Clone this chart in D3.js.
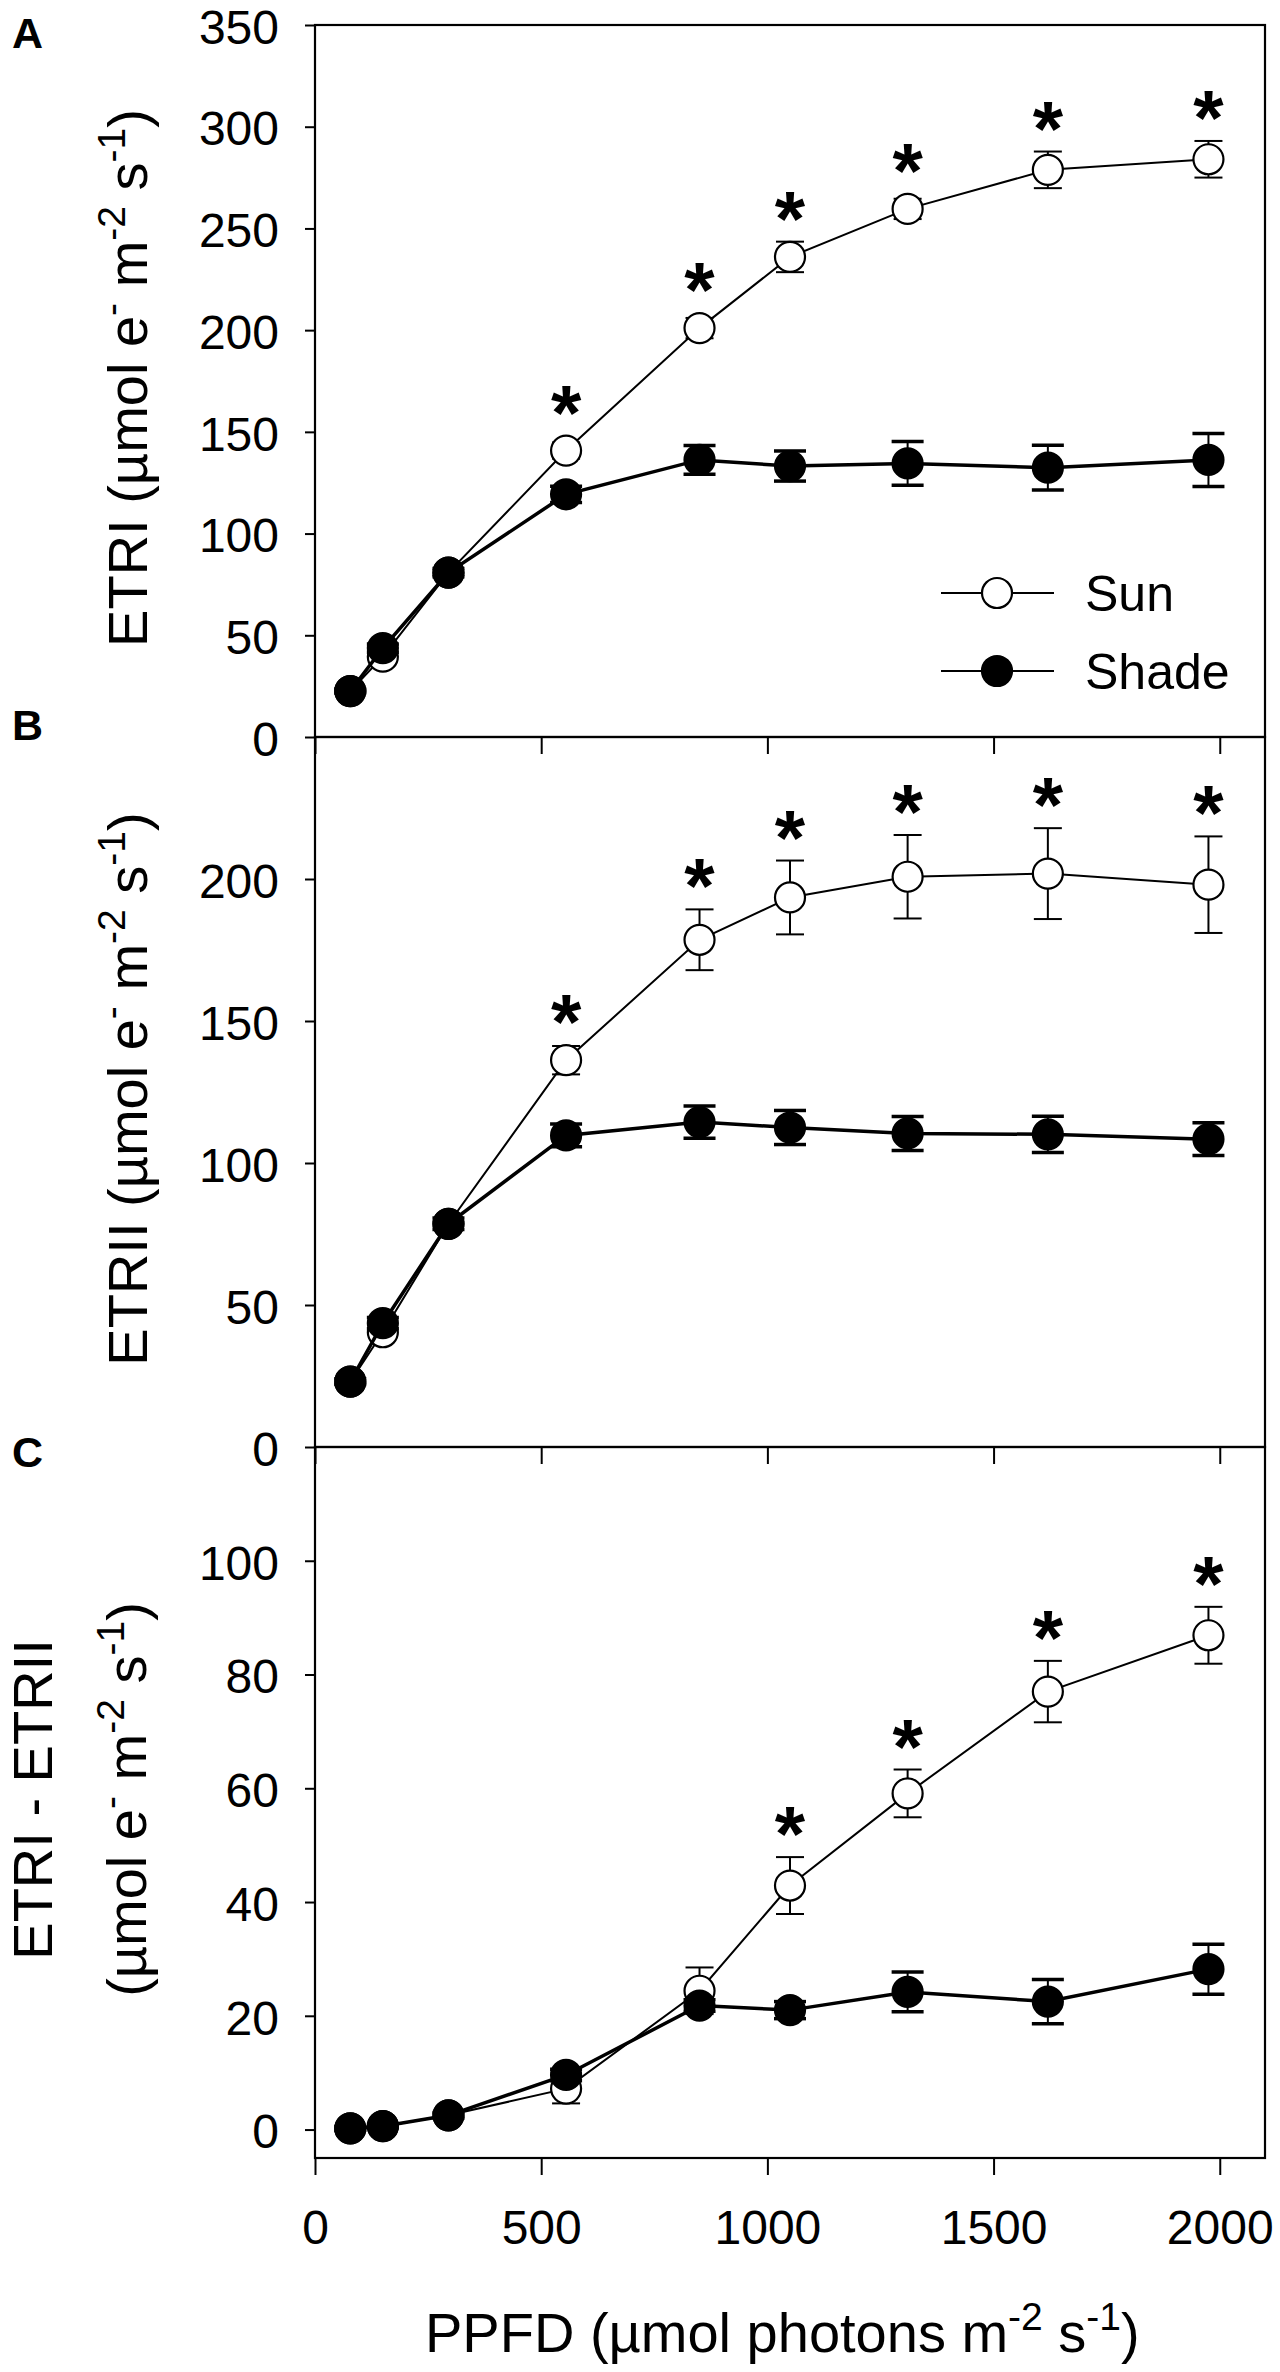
<!DOCTYPE html>
<html>
<head>
<meta charset="utf-8">
<script src="https://cdn.jsdelivr.net/npm/d3@7"></script>
<style>
  html, body { margin: 0; padding: 0; background: #fff; }
  svg { display: block; }
  text { font-family: "Liberation Sans", Arial, sans-serif; fill: #000; }
</style>
</head>
<body>
<svg id="chart" width="1280" height="2372"></svg>
<script>
// ---------------- DATA ----------------
const PPFD = [78, 150, 295, 555, 850, 1050, 1310, 1620, 1975];
const xTicks = [0, 500, 1000, 1500, 2000];

// Panel A: ETRI
const etrISun      = [22.6, 39.5, 80.8, 140.8, 201, 236, 259.6, 278.8, 284];
const etrISunErr   = [1, 2, 2, 4, 5, 7.5, 5, 9, 9];
const etrIShade    = [22.6, 43.7, 80.8, 119.3, 136.2, 133.2, 134.5, 132.4, 136.2];
const etrIShadeErr = [1, 2, 2, 4, 7.1, 7.4, 10.7, 11, 13];
const etrISig      = [0, 0, 0, 1, 1, 1, 1, 1, 1];
const etrITicks    = [0, 50, 100, 150, 200, 250, 300, 350];

// Panel B: ETRII
const etrIISun      = [23, 40.4, 78.6, 136.2, 178.6, 193.5, 200.8, 201.9, 198];
const etrIISunErr   = [1, 2, 2, 5, 10.7, 13, 14.7, 16, 17];
const etrIIShade    = [23, 43.6, 78.6, 109.7, 114.4, 112.5, 110.4, 110.1, 108.4];
const etrIIShadeErr = [1, 2, 2, 4, 5.7, 6, 6, 6.4, 5.8];
const etrIISig      = [0, 0, 0, 1, 1, 1, 1, 1, 1];
const etrIITicks    = [0, 50, 100, 150, 200];

// Panel C: ETRI - ETRII
const diffSun      = [0.2, 0.6, 2.5, 7.2, 24.4, 42.9, 59.1, 77.0, 86.9];
const diffSunErr   = [0.3, 0.3, 0.5, 2.6, 4.1, 5, 4.2, 5.4, 5];
const diffShade    = [0.2, 0.6, 2.5, 9.6, 21.8, 21.0, 24.2, 22.5, 28.2];
const diffShadeErr = [0.3, 0.3, 0.5, 1, 1, 1.5, 3.5, 3.9, 4.4];
const diffSig      = [0, 0, 0, 0, 0, 1, 1, 1, 1];
const diffTicks    = [0, 20, 40, 60, 80, 100];

const seriesNames = ["Sun", "Shade"];

// ---------------- LAYOUT ----------------
const svg = d3.select("#chart");
const left = 315, right = 1265;
const x = d3.scaleLinear().domain([0, 2100]).range([left, right]);

const unitParts = [["e", 0], ["-", 1], [" m", 0], ["-2", 1], [" s", 0], ["-1", 1], [")", 0]];

const panels = [
  { id: "A", top: 25, bottom: 737, domain: [0, 350], ticks: etrITicks,
    sun: etrISun, sunErr: etrISunErr, shade: etrIShade, shadeErr: etrIShadeErr, sig: etrISig,
    labelY: 48, legend: true, xLabels: false,
    title: [{ x: 147, parts: [["ETRI (µmol ", 0], ...unitParts] }] },
  { id: "B", top: 737, bottom: 1447, domain: [0, 250], ticks: etrIITicks,
    sun: etrIISun, sunErr: etrIISunErr, shade: etrIIShade, shadeErr: etrIIShadeErr, sig: etrIISig,
    labelY: 740, legend: false, xLabels: false,
    title: [{ x: 147, parts: [["ETRII (µmol ", 0], ...unitParts] }] },
  { id: "C", top: 1447, bottom: 2158, domain: [-5, 120], ticks: diffTicks,
    sun: diffSun, sunErr: diffSunErr, shade: diffShade, shadeErr: diffShadeErr, sig: diffSig,
    labelY: 1467, legend: false, xLabels: true,
    title: [{ x: 52, parts: [["ETRI - ETRII", 0]] },
            { x: 146, parts: [["(µmol ", 0], ...unitParts] }] }
];

const TITLE_FS = 56, TICK_FS = 48, SUP_FS = 39, SUP_DY = 22, R = 15;
const FONT = '"Liberation Sans", Arial, sans-serif';

function addRich(textSel, parts) {
  let raised = false;
  parts.forEach(([s, sup]) => {
    const ts = textSel.append("tspan").text(s);
    if (sup) {
      ts.style("font-size", SUP_FS + "px");
      if (!raised) { ts.attr("dy", -SUP_DY); raised = true; }
    } else if (raised) {
      ts.attr("dy", SUP_DY); raised = false;
    }
  });
}

panels.forEach(p => {
  const y = d3.scaleLinear().domain(p.domain).range([p.bottom, p.top]);
  const g = svg.append("g");

  // y axis
  const yAx = g.append("g").attr("transform", `translate(${left},0)`)
    .call(d3.axisLeft(y).tickValues(p.ticks).tickSize(10).tickSizeOuter(0).tickPadding(26));
  yAx.select(".domain").remove();
  yAx.selectAll(".tick line").attr("stroke", "#000").attr("stroke-width", 2);
  yAx.selectAll(".tick text").style("font-size", TICK_FS + "px")
     .style("font-family", FONT).attr("fill", "#000").attr("dy", "0.38em");

  // x axis (ticks pointing down)
  const xAx = g.append("g").attr("transform", `translate(0,${p.bottom})`)
    .call(d3.axisBottom(x).tickValues(xTicks).tickSize(17).tickSizeOuter(0).tickPadding(35)
      .tickFormat(p.xLabels ? d3.format("d") : () => ""));
  xAx.select(".domain").remove();
  xAx.selectAll(".tick line").attr("stroke", "#000").attr("stroke-width", 2);
  xAx.selectAll(".tick text").style("font-size", TICK_FS + "px")
     .style("font-family", FONT).attr("fill", "#000");

  // frame
  g.append("rect").attr("x", left).attr("y", p.top)
    .attr("width", right - left).attr("height", p.bottom - p.top)
    .attr("fill", "none").attr("stroke", "#000").attr("stroke-width", 2.2);

  // panel letter
  g.append("text").attr("x", 12).attr("y", p.labelY)
    .style("font-size", "43px").style("font-weight", "bold").text(p.id);

  // y title(s)
  const cy = (p.top + p.bottom) / 2 - 3;
  p.title.forEach(t => {
    const tx = g.append("text")
      .attr("transform", `translate(${t.x},${cy}) rotate(-90)`)
      .attr("text-anchor", "middle")
      .style("font-size", TITLE_FS + "px");
    addRich(tx, t.parts);
  });

  const line = d3.line().x((d, i) => x(PPFD[i])).y(d => y(d));

  const drawSeries = (vals, errs, filled) => {
    const sg = g.append("g");
    sg.append("path").datum(vals).attr("d", line)
      .attr("fill", "none").attr("stroke", "#000").attr("stroke-width", filled ? 3.5 : 2);
    const cap = filled ? 16 : 14;
    const sw = filled ? 3.5 : 2;
    vals.forEach((v, i) => {
      const cx = x(PPFD[i]);
      const y1 = y(v + errs[i]), y2 = y(v - errs[i]);
      sg.append("line").attr("x1", cx).attr("x2", cx).attr("y1", y1).attr("y2", y2)
        .attr("stroke", "#000").attr("stroke-width", 2);
      [y1, y2].forEach(yy => sg.append("line")
        .attr("x1", cx - cap).attr("x2", cx + cap).attr("y1", yy).attr("y2", yy)
        .attr("stroke", "#000").attr("stroke-width", sw));
    });
    sg.selectAll("circle").data(vals).join("circle")
      .attr("cx", (d, i) => x(PPFD[i])).attr("cy", d => y(d)).attr("r", R)
      .attr("fill", filled ? "#000" : "#fff").attr("stroke", "#000").attr("stroke-width", 2.2);
  };

  drawSeries(p.sun, p.sunErr, false);
  drawSeries(p.shade, p.shadeErr, true);

  // significance asterisks above sun series
  p.sun.forEach((v, i) => {
    if (!p.sig[i]) return;
    const topPx = Math.min(y(v) - R, y(v + p.sunErr[i]));
    g.append("text").attr("x", x(PPFD[i])).attr("y", topPx + 4)
      .attr("text-anchor", "middle")
      .style("font-size", "78px").style("font-weight", "bold").text("*");
  });

  // legend
  if (p.legend) {
    seriesNames.forEach((name, k) => {
      const ly = 593 + k * 78;
      g.append("line").attr("x1", 941).attr("x2", 1054).attr("y1", ly).attr("y2", ly)
        .attr("stroke", "#000").attr("stroke-width", 2);
      g.append("circle").attr("cx", 997).attr("cy", ly).attr("r", R)
        .attr("fill", k === 0 ? "#fff" : "#000").attr("stroke", "#000").attr("stroke-width", 2.2);
      g.append("text").attr("x", 1085).attr("y", ly + 18)
        .style("font-size", "50px").text(name);
    });
  }
});

// x-axis title
const xt = svg.append("text").attr("x", 425).attr("y", 2352).attr("text-anchor", "start")
  .style("font-size", TITLE_FS + "px");
addRich(xt, [["PPFD (µmol photons m", 0], ["-2", 1], [" s", 0], ["-1", 1], [")", 0]]);
</script>
</body>
</html>
